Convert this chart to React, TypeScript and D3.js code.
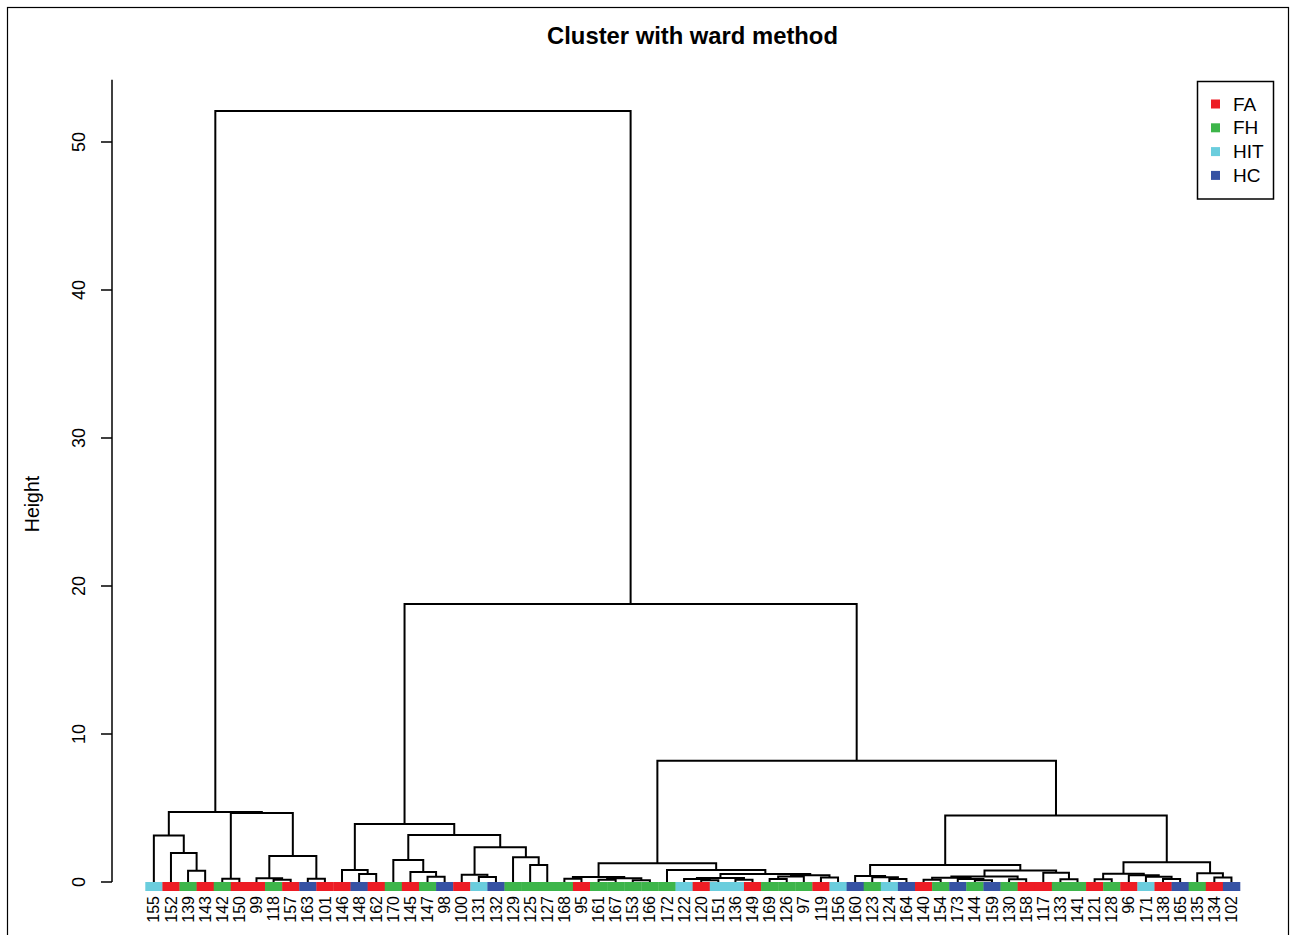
import React from "react";
import * as d3 from "d3";

const TITLE = "Cluster with ward method";
const Y_LABEL = "Height";

const LEAF_LABELS = [
  "155","152","139","143","142","150","99","118","157","163","101",
  "146","148","162","170","145","147","98","100","131","132","129","125","127",
  "168","95","161","167","153","166","172","122","120","151","136","149","169","126","97","119","156",
  "160","123","124","164","140","154","173","144","159","130","158","117","133","141",
  "121","128","96","171","138","165","135","134","102",
];

const LEAF_GROUPS = [
  "HIT","FA","FH","FA","FH","FA","FA","FH","FA","HC","FA",
  "FA","HC","FA","FH","FA","FH","HC","FA","HIT","HC","FH","FH","FH",
  "FH","FA","FH","FH","FH","FH","FH","HIT","FA","HIT","HIT","FA","FH","FH","FH","FA","HIT",
  "HC","FH","HIT","HC","FA","FH","HC","FH","HC","FH","FA","FA","FH","FH",
  "FA","FH","FA","HIT","FA","HC","FH","FA","HC",
];

// hclust-style merge table: negative = leaf (1-based), positive = earlier merge row (1-based), then height
const MERGES: [number, number, number][] = [
  [-3, -4, 0.76], [-2, 1, 1.96], [-1, 2, 3.15], [-5, -6, 0.22], [-8, -9, 0.15],
  [-7, 5, 0.25], [-10, -11, 0.22], [6, 7, 1.76], [4, 8, 4.67], [3, 9, 4.73],
  [-13, -14, 0.54], [-12, 11, 0.81], [-17, -18, 0.36], [-16, 13, 0.68], [-15, 14, 1.49],
  [-20, -21, 0.33], [-19, 16, 0.49], [-23, -24, 1.15], [-22, 18, 1.67], [17, 19, 2.35],
  [15, 20, 3.18], [12, 21, 3.92], [-25, -26, 0.22], [-27, -28, 0.15], [-29, -30, 0.12],
  [24, 25, 0.25], [23, 26, 0.33], [-33, -34, 0.12], [-32, 28, 0.2], [-35, -36, 0.15],
  [29, 30, 0.27], [-37, -38, 0.2], [32, -39, 0.38], [-40, -41, 0.3], [33, 34, 0.45],
  [31, 35, 0.54], [-31, 36, 0.81], [27, 37, 1.26], [-44, -45, 0.2], [-43, 39, 0.32],
  [-42, 40, 0.4], [-46, -47, 0.15], [-49, -50, 0.12], [-48, 43, 0.2], [42, 44, 0.28],
  [-51, -52, 0.18], [45, 46, 0.38], [-54, -55, 0.18], [-53, 48, 0.63], [47, 49, 0.77],
  [41, 50, 1.15], [-56, -57, 0.18], [-60, -61, 0.2], [-59, 53, 0.35], [-58, 54, 0.45],
  [52, 55, 0.55], [-63, -64, 0.3], [-62, 57, 0.59], [56, 58, 1.33], [51, 59, 4.49],
  [38, 60, 8.19], [22, 61, 18.79], [10, 62, 52.1],
];

const GROUPS = ["FA", "FH", "HIT", "HC"];
const GROUP_COLORS = ["#ED1C24", "#3DB54A", "#6ACDDD", "#3652A3"];
const Y_TICKS = [0, 10, 20, 30, 40, 50];
const Y_AXIS_TOP = 54.2;

const W = 1290;
const H = 935;

export default function App() {
  const x = d3.scaleBand<string>().domain(LEAF_LABELS).range([145.3, 1240]).padding(0);
  const y = d3.scaleLinear().domain([0, 50]).range([882, 142]);
  const color = d3.scaleOrdinal<string, string>().domain(GROUPS).range(GROUP_COLORS);
  const bw = x.bandwidth();
  const leafX = (i: number) => (x(LEAF_LABELS[i]) as number) + bw / 2;

  const pos: { x: number; h: number }[] = [];
  const nodePos = (id: number) => (id < 0 ? { x: leafX(-id - 1), h: 0 } : pos[id - 1]);
  const paths: string[] = [];
  MERGES.forEach(([a, b, h]) => {
    const pa = nodePos(a);
    const pb = nodePos(b);
    pos.push({ x: (pa.x + pb.x) / 2, h });
    const p = d3.path();
    p.moveTo(pa.x, y(pa.h));
    p.lineTo(pa.x, y(h));
    p.lineTo(pb.x, y(h));
    p.lineTo(pb.x, y(pb.h));
    paths.push(p.toString());
  });

  const font = "'Liberation Sans', Arial, Helvetica, sans-serif";
  const axisX = 112;

  return (
    <svg width={W} height={H} style={{ position: "absolute", left: 0, top: 0, background: "#fff" }} fontFamily={font}>
      <rect x={0} y={0} width={W} height={H} fill="#fff" />
      <rect x={7.5} y={7.5} width={1281} height={940} fill="none" stroke="#000" strokeWidth={1.2} />
      <text x={692.5} y={35} textAnchor="middle" dominantBaseline="central" fontSize={23.8} fontWeight="bold">{TITLE}</text>

      {/* y axis */}
      <line x1={axisX} x2={axisX} y1={y(0)} y2={y(Y_AXIS_TOP)} stroke="#000" strokeWidth={1.5} />
      {Y_TICKS.map((t) => (
        <g key={t}>
          <line x1={axisX - 11} x2={axisX} y1={y(t)} y2={y(t)} stroke="#000" strokeWidth={1.5} />
          <text transform={`translate(79,${y(t)}) rotate(-90)`} textAnchor="middle" dy="0.35em" fontSize={18}>{t}</text>
        </g>
      ))}
      <text transform={`translate(32,${504}) rotate(-90)`} textAnchor="middle" dy="0.35em" fontSize={19.5}>{Y_LABEL}</text>

      {/* dendrogram */}
      <g fill="none" stroke="#000" strokeWidth={2}>
        {paths.map((d, i) => <path key={i} d={d} />)}
      </g>

      {/* color bar */}
      {LEAF_LABELS.map((l, i) => (
        <rect key={l} x={x(l) as number} y={882} width={bw + 0.3} height={9} fill={color(LEAF_GROUPS[i])} />
      ))}

      {/* leaf labels */}
      {LEAF_LABELS.map((l, i) => (
        <text key={l} transform={`translate(${leafX(i)},896) rotate(-90)`} textAnchor="end" dy="0.35em" fontSize={16}>{l}</text>
      ))}

      {/* legend */}
      <rect x={1197.5} y={81.5} width={76} height={117.5} fill="#fff" stroke="#000" strokeWidth={1.5} />
      {GROUPS.map((g, i) => (
        <g key={g}>
          <rect x={1211} y={104 + i * 23.8 - 4.5} width={9} height={9} fill={GROUP_COLORS[i]} />
          <text x={1233} y={104 + i * 23.8} dy="0.35em" fontSize={19}>{g}</text>
        </g>
      ))}
    </svg>
  );
}
